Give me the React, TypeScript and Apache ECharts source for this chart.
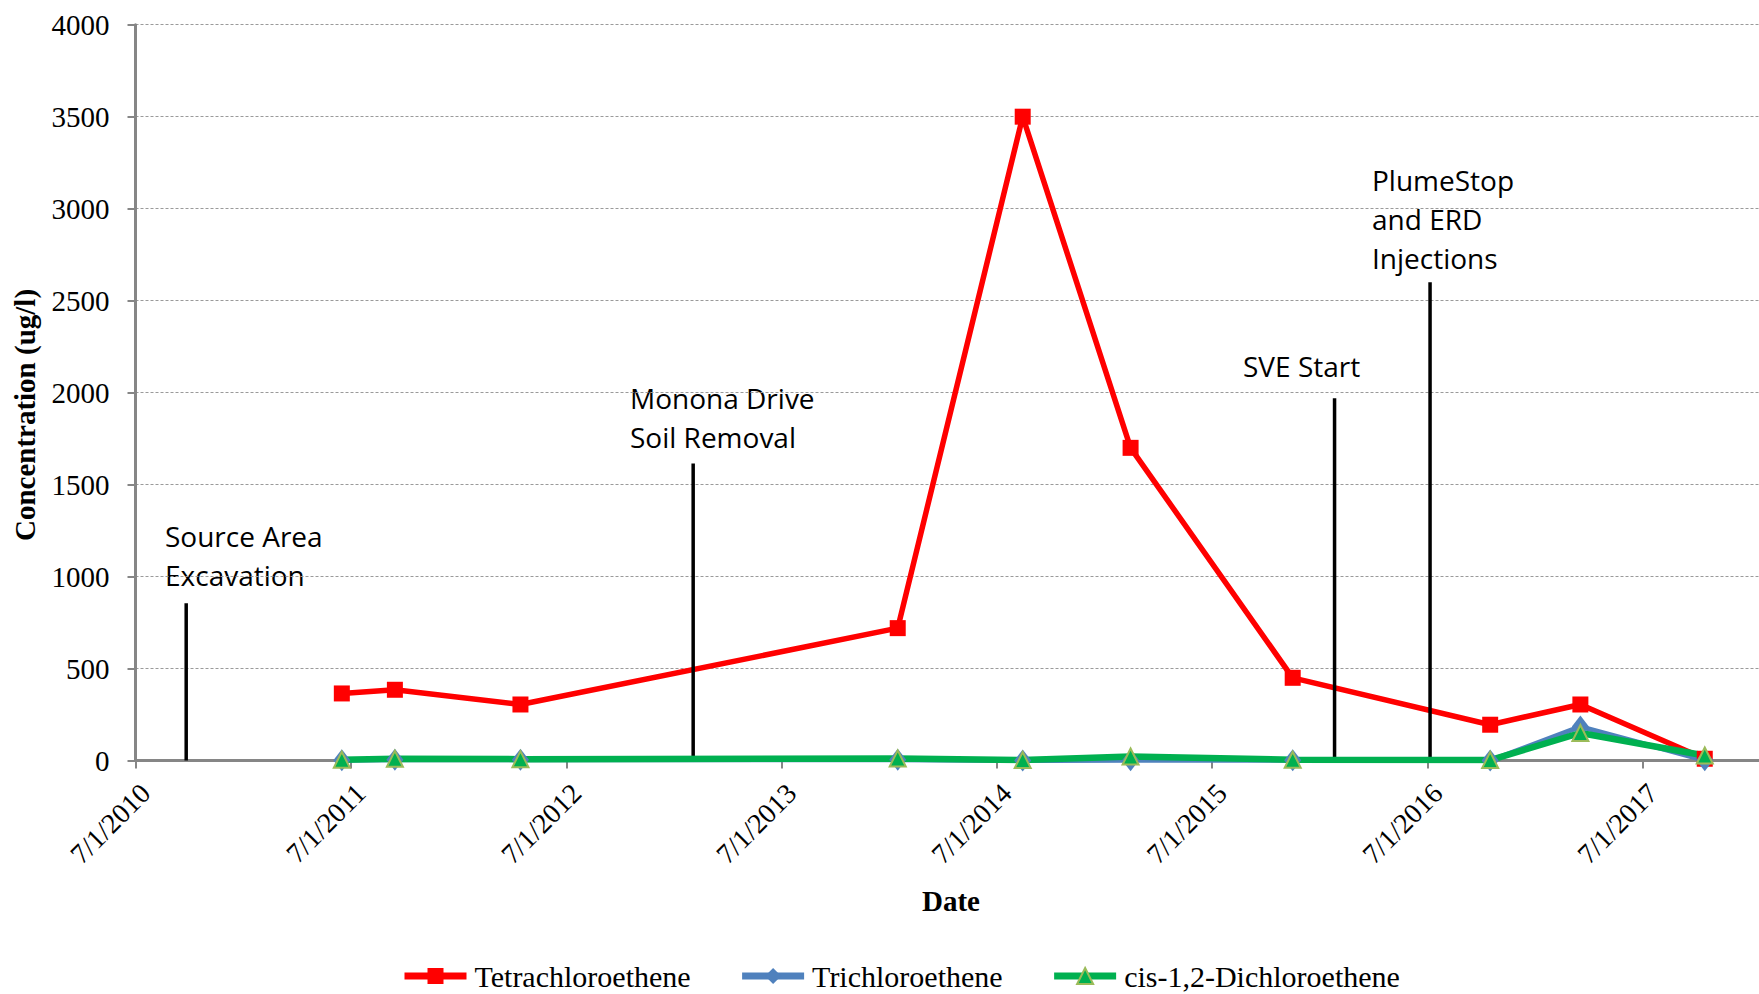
import React, { useEffect, useRef } from "react";
import * as echarts from "echarts";

// Sampling dates and concentrations (ug/l)
const SAMPLE_DATES = [
  "2011-06-16",
  "2011-09-14",
  "2012-04-14",
  "2014-01-14",
  "2014-08-14",
  "2015-02-13",
  "2015-11-15",
  "2016-10-15",
  "2017-03-17",
  "2017-10-14",
];
const PCE = [365, 385, 305, 720, 3500, 1700, 450, 195, 305, 10];
const TCE = [2, 5, 4, 5, 0, 2, 2, 0, 185, 2];
const DCE = [5, 10, 8, 12, 3, 22, 5, 3, 150, 28];

// Remedial events and the height of their marker lines
const EVENT_NAMES = [
  "Source Area\nExcavation",
  "Monona Drive\nSoil Removal",
  "SVE Start",
  "PlumeStop\nand ERD\nInjections",
];
const EVENT_DATES = ["2010-09-25", "2013-02-01", "2016-01-25", "2016-07-05"];
const EVENT_TOPS = [855, 1615, 1970, 2600];

// Axis settings
const X_TICK_DATES = [
  "2010-07-01",
  "2011-07-01",
  "2012-07-01",
  "2013-07-01",
  "2014-07-01",
  "2015-07-01",
  "2016-07-01",
  "2017-07-01",
];
const X_START = "2010-07-01";
const X_END = "2018-01-14";
const Y_MIN = 0;
const Y_MAX = 4000;
const Y_STEP = 500;

const SERIES_NAMES = ["Tetrachloroethene", "Trichloroethene", "cis-1,2-Dichloroethene"];

// Where the event captions sit (left, top of first line), in px
const EVENT_LABEL_POS = [
  [165, 516],
  [630, 378],
  [1243, 346],
  [1372, 160],
];

const ts = (s: string) => {
  const [y, m, d] = s.split("-").map(Number);
  return Date.UTC(y, m - 1, d);
};

const fmtDate = (v: number) => {
  const d = new Date(v + 12 * 3600 * 1000);
  return `${d.getUTCMonth() + 1}/${d.getUTCDate()}/${d.getUTCFullYear()}`;
};

const SERIF = "Liberation Serif";
const SANS = "Open Sans";

export default function App() {
  const ref = useRef<HTMLDivElement>(null);

  useEffect(() => {
    if (!ref.current) return;
    const chart = echarts.init(ref.current, null, { renderer: "svg" });

    const xTicks = X_TICK_DATES.map(ts);
    const pts = (vals: number[]) => SAMPLE_DATES.map((d, i) => [ts(d), vals[i]]);

    const eventSeries = EVENT_DATES.map((d, i) => ({
      name: "event-" + i,
      type: "line",
      data: [
        [ts(d), 0],
        [ts(d), EVENT_TOPS[i]],
      ],
      symbol: "none",
      silent: true,
      lineStyle: { color: "#000000", width: 3.5 },
    }));

    const option: any = {
      animation: false,
      backgroundColor: "#ffffff",
      textStyle: { fontFamily: SERIF, color: "#000000" },
      grid: { left: 135.5, right: 0, top: 24.7, bottom: 233.4, containLabel: false },
      legend: {
        data: SERIES_NAMES,
        left: 396,
        top: 956,
        itemWidth: 62,
        itemHeight: 20,
        itemGap: 48,
        lineStyle: { width: 7 },
        textStyle: {
          fontFamily: SERIF,
          fontSize: 30,
          color: "#000000",
          padding: [0, 0, 0, 3],
        },
      },
      xAxis: {
        type: "value",
        min: ts(X_START),
        max: ts(X_END),
        splitLine: { show: false },
        axisLine: { show: true, lineStyle: { color: "#868686", width: 3 } },
        axisTick: {
          show: true,
          customValues: xTicks,
          length: 8,
          lineStyle: { color: "#868686", width: 2 },
        },
        axisLabel: {
          customValues: xTicks,
          rotate: 45,
          margin: 18,
          verticalAlign: "top",
          formatter: (v: number) => fmtDate(v),
          fontFamily: SERIF,
          fontSize: 28,
          color: "#000000",
        },
      },
      yAxis: {
        type: "value",
        min: Y_MIN,
        max: Y_MAX,
        interval: Y_STEP,
        axisLine: { show: true, lineStyle: { color: "#868686", width: 3 } },
        axisTick: { show: true, length: 8, lineStyle: { color: "#868686", width: 2 } },
        axisLabel: {
          margin: 26,
          formatter: (v: number) => String(v),
          fontFamily: SERIF,
          fontSize: 29,
          color: "#000000",
        },
        splitLine: {
          show: true,
          lineStyle: { color: "#9a9a9a", width: 1, type: [3, 2] },
        },
      },
      graphic: [
        {
          type: "text",
          x: 25,
          y: 415,
          rotation: Math.PI / 2,
          style: {
            text: "Concentration (ug/l)",
            fontFamily: SERIF,
            fontWeight: "bold",
            fontSize: 29,
            fill: "#000000",
            align: "center",
            verticalAlign: "middle",
          },
        },
        {
          type: "text",
          x: 951,
          y: 901,
          style: {
            text: "Date",
            fontFamily: SERIF,
            fontWeight: "bold",
            fontSize: 29,
            fill: "#000000",
            align: "center",
            verticalAlign: "middle",
          },
        },
        ...EVENT_NAMES.map((t, i) => ({
          type: "text",
          x: EVENT_LABEL_POS[i][0],
          y: EVENT_LABEL_POS[i][1],
          style: {
            text: t,
            fontFamily: SANS,
            fontSize: 28,
            lineHeight: 39,
            fill: "#000000",
            align: "left",
            verticalAlign: "top",
          },
        })),
      ],
      series: [
        {
          name: SERIES_NAMES[0],
          type: "line",
          data: pts(PCE),
          symbol: "rect",
          symbolSize: 16,
          lineStyle: { color: "#FF0000", width: 5.5 },
          itemStyle: { color: "#FF0000" },
        },
        {
          name: SERIES_NAMES[1],
          type: "line",
          data: pts(TCE),
          symbol: "diamond",
          symbolSize: [17, 22],
          lineStyle: { color: "#4F81BD", width: 5 },
          itemStyle: { color: "#4F81BD" },
        },
        ...eventSeries,
        {
          name: SERIES_NAMES[2],
          type: "line",
          data: pts(DCE),
          symbol: "triangle",
          symbolSize: 16,
          lineStyle: { color: "#00B050", width: 6.5 },
          itemStyle: { color: "#00B050", borderColor: "#9BBB59", borderWidth: 2 },
        },
      ],
    };

    chart.setOption(option);
    return () => chart.dispose();
  }, []);

  return (
    <div
      ref={ref}
      style={{ position: "fixed", left: 0, top: 0, width: 1759, height: 994, background: "#fff" }}
    />
  );
}
